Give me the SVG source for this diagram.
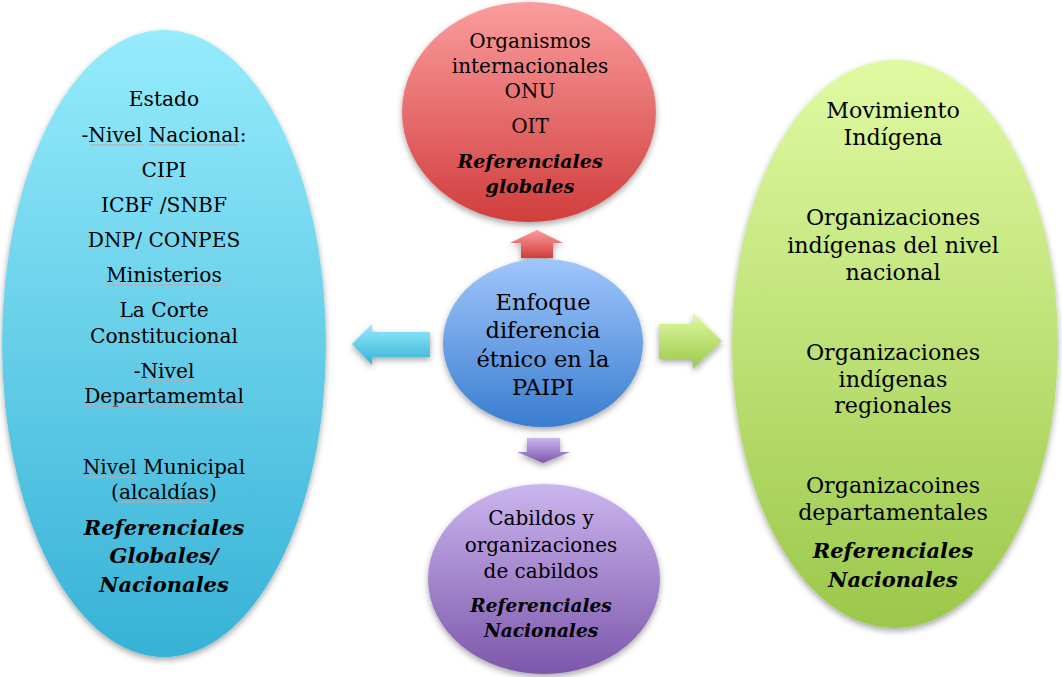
<svg xmlns="http://www.w3.org/2000/svg" width="1062" height="677" viewBox="0 0 1062 677">
  <defs>
    <linearGradient id="gCyan" x1="0" y1="0" x2="0" y2="1">
      <stop offset="0" stop-color="#96ebfc"/>
      <stop offset="1" stop-color="#36b2d6"/>
    </linearGradient>
    <linearGradient id="gRed" x1="0" y1="0" x2="0" y2="1">
      <stop offset="0" stop-color="#fb9d9d"/>
      <stop offset="1" stop-color="#d13d3d"/>
    </linearGradient>
    <linearGradient id="gBlue" x1="0" y1="0" x2="0" y2="1">
      <stop offset="0" stop-color="#a0c6fb"/>
      <stop offset="1" stop-color="#3a7dcf"/>
    </linearGradient>
    <linearGradient id="gPurple" x1="0" y1="0" x2="0" y2="1">
      <stop offset="0" stop-color="#cbb5ee"/>
      <stop offset="1" stop-color="#7c57ab"/>
    </linearGradient>
    <linearGradient id="gGreen" x1="0" y1="0" x2="0" y2="1">
      <stop offset="0" stop-color="#e0faa2"/>
      <stop offset="1" stop-color="#9bc84a"/>
    </linearGradient>
    <filter id="shadow" x="-20%" y="-20%" width="140%" height="140%">
      <feDropShadow dx="0" dy="3" stdDeviation="3" flood-color="#000" flood-opacity="0.35"/>
    </filter>
  </defs>
  <style>
    text { font-family: "DejaVu Serif", "Liberation Serif", serif; fill: #000; text-anchor: middle; }
    .l { font-size: 20.2px; }
    .t { font-size: 20px; }
    .c { font-size: 22.5px; }
    .p { font-size: 20px; }
    .g { font-size: 22.2px; }
    .ref { font-weight: bold; font-style: italic; }
    .sq { stroke: #e29a9a; stroke-width: 1; fill: none; }
  </style>

  <rect width="1062" height="677" fill="#ffffff"/>

  <!-- connectors: block arrows radiating from the centre -->
  <g id="connectors" filter="url(#shadow)">
    <polygon points="537,230 563,243 553,243 553,258 521,258 521,243 510,243" fill="url(#gRed)"/>
    <polygon points="527,438 560,438 560,452 570,452 543,463 517,452 527,452" fill="url(#gPurple)"/>
    <polygon points="352,344 372,324 372,332 430,332 430,357 372,357 372,365" fill="url(#gCyan)"/>
    <polygon points="659,324 693,324 693,313 722,341 693,369 693,359 659,359" fill="url(#gGreen)"/>
  </g>

  <!-- Estado -->
  <g id="node-estado">
    <ellipse cx="164" cy="343.5" rx="162" ry="313.5" fill="url(#gCyan)" filter="url(#shadow)"/>
    <text class="l" x="164" y="106">Estado</text>
    <text class="l" x="164" y="142">-Nivel Nacional:</text>
    <text class="l" x="164" y="177">CIPI</text>
    <text class="l" x="164" y="212">ICBF /SNBF</text>
    <text class="l" x="164" y="247">DNP/ CONPES</text>
    <text class="l" x="164" y="282">Ministerios </text>
    <text class="l" x="164" y="317">La Corte</text>
    <text class="l" x="164" y="343">Constitucional</text>
    <text class="l" x="164" y="378">-Nivel</text>
    <text class="l" x="164" y="403">Departamemtal</text>
    <text class="l" x="164" y="474">Nivel Municipal</text>
    <text class="l" x="164" y="499">(alcaldías)</text>
    <text class="l ref" x="164" y="535" style="font-size:21px">Referenciales</text>
    <text class="l ref" x="164" y="563" style="font-size:21px">Globales/</text>
    <text class="l ref" x="164" y="592" style="font-size:21px">Nacionales</text>
    <!-- spelling underlines -->
    <line class="sq" x1="90" y1="145" x2="143" y2="145"/>
    <line class="sq" x1="149" y1="145" x2="238" y2="145"/>
    <line class="sq" x1="105" y1="285" x2="228" y2="285"/>
    <line class="sq" x1="142" y1="381" x2="193" y2="381"/>
    <line class="sq" x1="84" y1="406" x2="243" y2="406"/>
    <line class="sq" x1="84" y1="477" x2="137" y2="477"/>
    <line class="sq" x1="118" y1="502" x2="208" y2="502"/>
  </g>

  <!-- Organismos internacionales -->
  <g id="node-organismos">
    <ellipse cx="529" cy="112" rx="127" ry="110" fill="url(#gRed)" filter="url(#shadow)"/>
    <text class="t" x="530" y="48">Organismos</text>
    <text class="t" x="530" y="73">internacionales</text>
    <text class="t" x="530" y="98">ONU</text>
    <text class="t" x="530" y="133">OIT</text>
    <text class="t ref" x="530" y="168" style="font-size:19px">Referenciales</text>
    <text class="t ref" x="530" y="193" style="font-size:19px">globales</text>
  </g>

  <!-- Enfoque diferencial (centre) -->
  <g id="node-enfoque">
    <ellipse cx="543" cy="343" rx="100" ry="84" fill="url(#gBlue)" filter="url(#shadow)"/>
    <text class="c" x="543" y="310">Enfoque</text>
    <text class="c" x="543" y="338">diferencia</text>
    <text class="c" x="543" y="367">étnico en la</text>
    <text class="c" x="543" y="395">PAIPI</text>
  </g>

  <!-- Cabildos -->
  <g id="node-cabildos">
    <ellipse cx="544" cy="579" rx="116" ry="95" fill="url(#gPurple)" filter="url(#shadow)"/>
    <text class="p" x="541" y="525">Cabildos y</text>
    <text class="p" x="541" y="552">organizaciones</text>
    <text class="p" x="541" y="578">de cabildos</text>
    <text class="p ref" x="541" y="612" style="font-size:18.5px">Referenciales</text>
    <text class="p ref" x="541" y="637" style="font-size:18.5px">Nacionales</text>
  </g>

  <!-- Movimiento indígena -->
  <g id="node-movimiento">
    <ellipse cx="895" cy="344" rx="163" ry="284" fill="url(#gGreen)" filter="url(#shadow)"/>
    <text class="g" x="893" y="118">Movimiento</text>
    <text class="g" x="893" y="145">Indígena</text>
    <text class="g" x="893" y="225">Organizaciones</text>
    <text class="g" x="893" y="253">indígenas del nivel</text>
    <text class="g" x="893" y="280">nacional</text>
    <text class="g" x="893" y="360">Organizaciones</text>
    <text class="g" x="893" y="387">indígenas</text>
    <text class="g" x="893" y="413">regionales</text>
    <text class="g" x="893" y="493">Organizacoines</text>
    <text class="g" x="893" y="520">departamentales</text>
    <text class="g ref" x="893" y="558" style="font-size:21px">Referenciales</text>
    <text class="g ref" x="893" y="587" style="font-size:21px">Nacionales</text>
  </g>
</svg>
